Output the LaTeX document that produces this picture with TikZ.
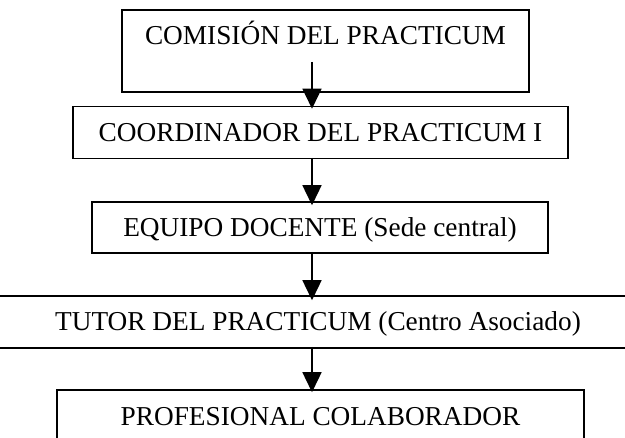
\documentclass[tikz,border=0pt]{standalone}
\usepackage{fontspec}
\setmainfont{Liberation Serif}
\usetikzlibrary{arrows.meta}
\begin{document}
\begin{tikzpicture}[x=1pt,y=-1pt,
  txt/.style={inner sep=0pt,text height=18pt,text depth=0pt,
    font=\fontsize{27.3}{30}\selectfont},
  box/.style={txt,draw=black,line width=1.5pt,rectangle},
  flow/.style={line width=1.4pt,-{Triangle[width=19pt,length=20pt]}}]
\useasboundingbox (0,0) rectangle (625,438);
\clip (0,0) rectangle (625,438);
\fill[white] (0,0) rectangle (625,438);
% boxes
\node[box,minimum width=407pt,minimum height=82pt] (b1) at (325.5,51) {};
\node[txt] (t1) at (325.5,36) {COMISIÓN DEL PRACTICUM};
\node[box,minimum width=495pt,minimum height=52pt] (b2) at (320.5,132.5) {COORDINADOR DEL PRACTICUM I};
\node[box,minimum width=456pt,minimum height=51pt] (b3) at (320,227.5) {EQUIPO DOCENTE (Sede central)};
\node[box,minimum width=660pt,minimum height=52pt] (b4) at (318,322) {TUTOR DEL PRACTICUM (Centro Asociado)};
\node[box,minimum width=527pt,minimum height=70pt] (b5) at (320.5,425) {};
\node[txt] (t5) at (320.5,417) {PROFESIONAL COLABORADOR};
% connectors
\coordinate (a1) at (312,62);
\coordinate (a2) at (312,158);
\coordinate (a3) at (312,252);
\coordinate (a4) at (312,347);
\draw[flow,shorten >=-3pt] (a1) -- (a1 |- b2.north);
\draw[flow,shorten >=-4pt] (a2) -- (a2 |- b3.north);
\draw[flow,shorten >=-5pt] (a3) -- (a3 |- b4.north);
\draw[flow,shorten >=-3pt] (a4) -- (a4 |- b5.north);
\end{tikzpicture}
\end{document}
